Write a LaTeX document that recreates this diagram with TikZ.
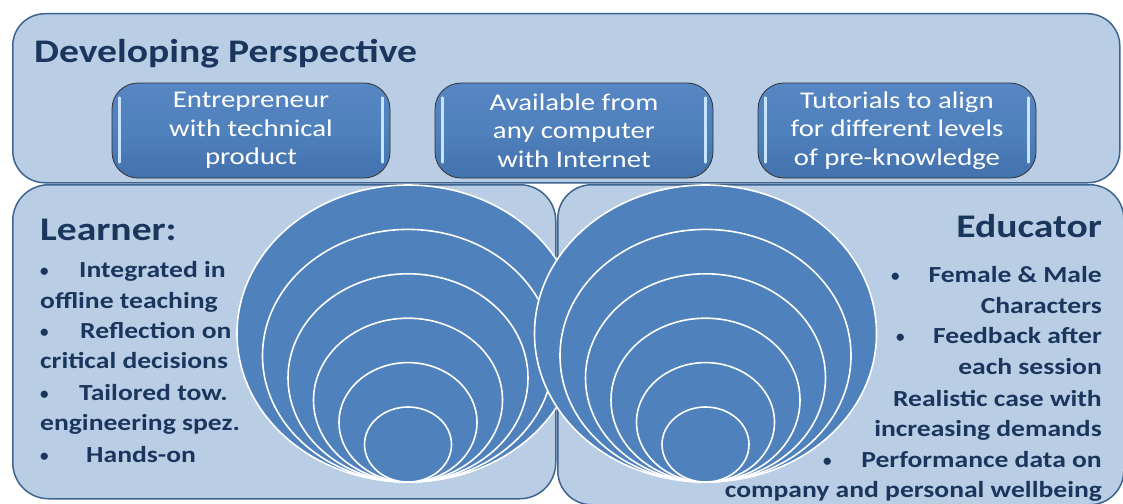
\documentclass[tikz,border=0pt]{standalone}
\usepackage{fontspec}
\setmainfont{Carlito}
\newfontfamily\widefont[FakeStretch=1.2]{Carlito}
\usetikzlibrary{calc}
\definecolor{boxfill}{HTML}{B9CDE5}
\definecolor{boxline}{HTML}{3D6491}
\definecolor{ringfill}{HTML}{4F81BD}
\definecolor{navy}{HTML}{1B365D}
\definecolor{hilite}{HTML}{C9E3FF}
\definecolor{pilltop}{HTML}{5686C3}
\definecolor{pillbot}{HTML}{4372AD}
\begin{document}
\begin{tikzpicture}[x=1pt,y=-1pt,
  panel/.style={draw=boxline,fill=boxfill,line width=1.5pt,inner sep=0pt,anchor=north west},
  ring/.style={fill=ringfill,draw=white,line width=1.6pt},
  pill/.style={draw=black!80,line width=0.8pt,rounded corners=26pt,top color=pilltop,bottom color=pillbot,middle color=ringfill,
    minimum width=278pt,minimum height=95pt,inner sep=0pt,text=white,align=center,
    font=\widefont\fontsize{24}{28.5}\selectfont},
  glint/.style={draw=hilite,line width=2.4pt,line cap=round},
  head/.style={inner sep=0pt,text=navy,font=\widefont\bfseries\fontsize{33}{36}\selectfont},
  item/.style={inner sep=0pt,text=navy,font=\widefont\bfseries\fontsize{23}{28}\selectfont},
  lft/.style={item,anchor=base west},
  rgt/.style={item,anchor=base east},
  dot/.style={inner sep=0pt,text=navy,anchor=base west,font=\bfseries\fontsize{17}{20}\selectfont}]
\useasboundingbox (0,0) rectangle (1123,503);
\fill[white] (0,0) rectangle (1123,503);

% panels
\node[panel,rounded corners=36pt,minimum width=543pt,minimum height=314pt] (learnerpanel) at (12,184) {};
\node[panel,rounded corners=34pt,minimum width=566pt,minimum height=320pt] (educatorpanel) at (557,184) {};
\node[panel,rounded corners=32pt,minimum width=1107pt,minimum height=169pt] (toppanel) at (12,13) {};

% nested rings, left
\foreach \k in {0,...,5}{
  \pgfmathsetmacro{\rx}{171-25.5*\k}
  \pgfmathsetmacro{\ry}{148.5-22.2*\k}
  \draw[ring] (408,482-\ry) ellipse [x radius=\rx, y radius=\ry];
}
% nested rings, right
\foreach \k in {0,...,5}{
  \pgfmathsetmacro{\rx}{171-25.5*\k}
  \pgfmathsetmacro{\ry}{148.5-22.2*\k}
  \draw[ring] (705.5,482-\ry) ellipse [x radius=\rx, y radius=\ry];
}

% top pills
\node[pill] (p1) at (251,130.5) {Entrepreneur\\with technical\\product};
\node[pill] (p2) at (574,130.5) {Available from\\any computer\\with Internet};
\node[pill] (p3) at (897,130.5) {Tutorials to align\\for different levels\\of pre-knowledge};
\foreach \p in {p1,p2,p3}{
  \draw[glint] ($(\p.north west)+(8,15)$) -- ($(\p.south west)+(8,-16)$);
  \draw[glint] ($(\p.north east)+(-8,15)$) -- ($(\p.south east)+(-8,-16)$);
}

% headings
\node[head,anchor=base west] (title) at (34,63) {Developing Perspective};
\node[head,anchor=base west] (learner) at (40,240) {Learner:};
\node[head,anchor=base east] (educator) at (1102,237) {Educator};

% learner items
\node[dot] (lb1) at (40,276) {•};
\node[lft] (l1) at (79,277) {Integrated in};
\node[lft] (l2) at (40,308) {offline teaching};
\node[dot] (lb2) at (40,337) {•};
\node[lft] (l3) at (80,338) {Reflection on};
\node[lft] (l4) at (40,368) {critical decisions};
\node[dot] (lb3) at (40,399) {•};
\node[lft] (l5) at (79,400) {Tailored tow.};
\node[lft] (l6) at (40,430) {engineering spez.};
\node[dot] (lb4) at (40,461) {•};
\node[lft] (l7) at (86,462) {Hands-on};

% educator items
\node[dot] (eb1) at (891,281) {•};
\node[rgt] (e1) at (1102,282) {Female \& Male};
\node[rgt] (e2) at (1102,313) {Characters};
\node[dot] (eb2) at (896,342) {•};
\node[rgt] (e3) at (1102,343) {Feedback after};
\node[rgt] (e4) at (1102,374) {each session};
\node[rgt] (e5) at (1102,406) {Realistic case with};
\node[rgt] (e6) at (1102,436) {increasing demands};
\node[dot] (eb3) at (823,466) {•};
\node[rgt] (e7) at (1102,467) {Performance data on};
\node[rgt] (e8) at (1102,497) {company and personal wellbeing};
\end{tikzpicture}
\end{document}
